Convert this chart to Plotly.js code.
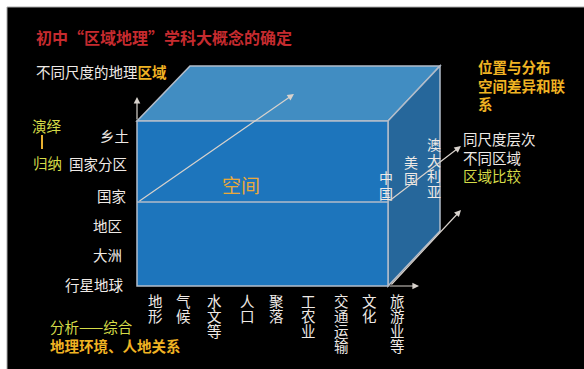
<!DOCTYPE html>
<html>
<head>
<meta charset="utf-8">
<script src="https://cdn.plot.ly/plotly-3.0.1.min.js"></script>
<style>html,body{margin:0;padding:0;background:#fff;}#chart{width:584px;height:369px;}</style>
</head>
<body>
<div id="chart"></div>
<script>
// ---- content ----
const titleText = '初中“区域地理”学科大概念的确定';
const scaleLabels = ['乡土', '国家分区', '国家', '地区', '大洲', '行星地球'];
const elementLabels = ['地形', '气候', '水文等', '人口', '聚落', '工农业', '交通运输', '文化', '旅游业等'];
const countryLabels = ['中国', '美国', '澳大利亚'];
const rightTopLines = ['位置与分布', '空间差异和联', '系'];
const rightMidLines = ['同尺度层次', '不同区域', '区域比较'];
const spaceLabel = '空间';

// ---- layout positions (diagram coordinates, px) ----
const scaleRight = [130, 128, 127, 123, 123, 125];
const scaleY = [135, 163, 195, 225, 254, 284];
const elementX = [155, 183, 214, 247, 276, 308, 341, 369, 397];
const countryX = [386, 411, 434];
const countryY0 = [177, 162, 144];

const FONT = '"Noto Sans CJK SC", "Noto Sans", sans-serif';
const WHITE = '#EFEAE6';
const GOLD = '#F0B323';
const LIME = '#D5DC48';
const RED = '#C62B2F';

const annotations = [];
function txt(x, y, text, size, color, anchor, extra) {
  annotations.push(Object.assign({
    x: x, y: y, xref: 'x', yref: 'y', text: text, showarrow: false,
    xanchor: anchor || 'left', yanchor: 'middle',
    font: {family: FONT, size: size, color: color}, borderpad: 0
  }, extra || {}));
}
function vtxt(x, y0, str, size, color, step) {
  [...str].forEach((ch, i) => txt(x, y0 + i * step, ch, size, color, 'center'));
}
function arrow(x0, y0, x1, y1) {
  annotations.push({
    x: x1, y: y1, ax: x0, ay: y0, xref: 'x', yref: 'y', axref: 'x', ayref: 'y',
    showarrow: true, arrowhead: 2, arrowsize: 1.1, arrowwidth: 1.2, arrowcolor: '#D8D2CC', text: ''
  });
}

txt(35, 37, '<b>' + titleText + '</b>', 16, RED);
txt(35, 71, '不同尺度的地理<b><span style="color:' + GOLD + '">区域</span></b>', 14.5, WHITE);
txt(47, 125, '演绎', 14.5, LIME, 'center');
txt(47, 162, '归纳', 14.5, LIME, 'center');
scaleLabels.forEach((s, i) => txt(scaleRight[i], scaleY[i], s, 14.5, WHITE, 'right'));
elementLabels.forEach((s, i) => vtxt(elementX[i], 300, s, 14.5, WHITE, 15));
countryLabels.forEach((s, i) => vtxt(countryX[i], countryY0[i], s, 14, WHITE, 15.5));
txt(241, 184, spaceLabel, 19, '#E9A93B', 'center');
rightTopLines.forEach((s, i) => txt(477, [66, 85, 103][i], '<b>' + s + '</b>', 14.5, GOLD));
rightMidLines.forEach((s, i) => txt(462, [138, 157, 175][i], s, 14.5, i === 2 ? LIME : WHITE));
txt(49, 326, '分析——综合', 14.5, LIME);
txt(49, 345, '<b>地理环境、人地关系</b>', 14.5, GOLD);

arrow(137, 121, 137, 97);
arrow(388, 286, 419, 286);
arrow(138, 202, 294, 94);
arrow(388, 202, 461, 146);
arrow(390, 286, 461, 210);

const EDGE = '#B3BDCA';
const shapes = [
  {type: 'rect', x0: 7, y0: 7, x1: 590, y1: 375, fillcolor: '#000', line: {color: '#A8A8A8', width: 1}, layer: 'below'},
  {type: 'path', path: 'M137,121 L190,66 L440,66 L388,121 Z', fillcolor: '#418DC2', line: {color: EDGE, width: 1.5}, layer: 'below'},
  {type: 'path', path: 'M388,121 L440,66 L440,231 L388,286 Z', fillcolor: '#26679B', line: {color: EDGE, width: 1.5}, layer: 'below'},
  {type: 'rect', x0: 137, y0: 121, x1: 388, y1: 286, fillcolor: '#1D75BC', line: {color: EDGE, width: 1.5}, layer: 'below'},
  {type: 'line', x0: 137, y0: 202, x1: 388, y1: 202, line: {color: EDGE, width: 1.5}},
  {type: 'line', x0: 42, y0: 135, x1: 42, y1: 149, line: {color: '#E8B030', width: 2}}
];

const layout = {
  width: 584, height: 369,
  margin: {l: 0, r: 0, t: 0, b: 0, pad: 0},
  paper_bgcolor: '#fff', plot_bgcolor: 'rgba(0,0,0,0)',
  xaxis: {range: [0, 584], visible: false, fixedrange: true},
  yaxis: {range: [369, 0], visible: false, fixedrange: true},
  showlegend: false,
  shapes: shapes,
  annotations: annotations
};
Plotly.newPlot('chart', [{x: [], y: [], type: 'scatter', hoverinfo: 'skip'}], layout, {staticPlot: true, displayModeBar: false});
</script>
</body>
</html>
